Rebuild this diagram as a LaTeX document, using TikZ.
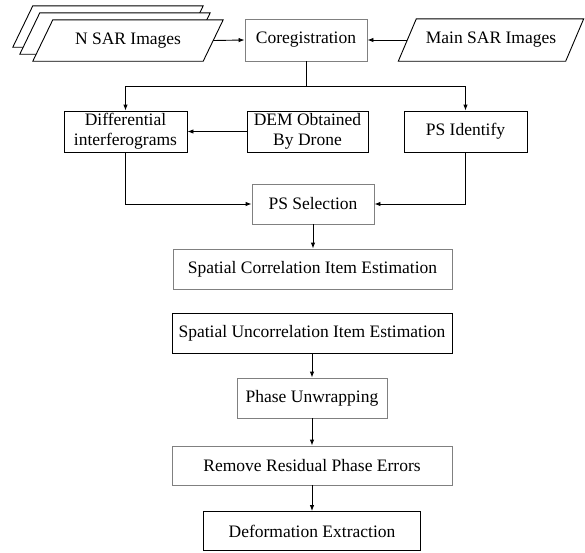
\documentclass[tikz,border=0pt]{standalone}
\usepackage{fontspec}
\setmainfont{Liberation Serif}
\usetikzlibrary{arrows.meta}
\newcommand{\paradraw}[2]{%
  \draw[line width=0.9pt, fill=white] ([xshift=#2]#1.north west) -- ([xshift=#2]#1.north east) -- ([xshift=-#2]#1.south east) -- ([xshift=-#2]#1.south west) -- cycle;}
\begin{document}
\begin{tikzpicture}[x=1pt,y=-1pt,
  every node/.style={font=\fontsize{17.5}{20}\selectfont, inner sep=0pt, align=center},
  blk/.style={draw=black, line width=0.9pt, fill=white},
  gry/.style={draw=black!50, line width=0.9pt, fill=white},
  parabox/.style={minimum width=170pt, minimum height=41pt},
  arr/.style={line width=0.9pt, -{Latex[length=6pt,width=4.5pt]}},
  ln/.style={line width=0.9pt}]
\fill[white] (0,0) rectangle (585,552);
\useasboundingbox (0,0) rectangle (585,552);
% N SAR stack
\node[parabox] (nback) at (108,26.5) {};
\paradraw{nback}{10pt}
\node[parabox] (nmid) at (115,33.5) {};
\paradraw{nmid}{10pt}
\node[parabox] (nsar) at (128,40.5) {};
\paradraw{nsar}{10pt}
\node at (nsar) {N SAR Images};
\node[minimum width=167pt, minimum height=42pt] (msar) at (491,40) {};
\paradraw{msar}{9pt}
\node at (msar) {Main SAR Images};
\node[gry, minimum width=122pt, minimum height=42pt] (coreg) at (306,40) {Coregistration};
\node[blk, minimum width=123pt, minimum height=41pt] (diff) at (125.5,131.5) {Differential\\interferograms};
\node[blk, minimum width=121pt, minimum height=41pt] (dem) at (307.5,131.5) {DEM Obtained\\By Drone};
\node[blk, minimum width=123pt, minimum height=41pt] (psi) at (465.5,131.5) {PS Identify};
\node[gry, minimum width=122pt, minimum height=40pt] (pss) at (313,204) {PS Selection};
\node[gry, minimum width=279pt, minimum height=40pt] (sc) at (312.5,269) {Spatial Correlation Item Estimation};
\node[blk, minimum width=280pt, minimum height=40pt] (su) at (312,333) {Spatial Uncorrelation Item Estimation};
\node[gry, minimum width=150pt, minimum height=40pt] (pu) at (312,398) {Phase Unwrapping};
\node[gry, minimum width=280pt, minimum height=39pt] (rr) at (312,465.5) {Remove Residual Phase Errors};
\node[blk, minimum width=217pt, minimum height=39pt] (de) at (312,531) {Deformation Extraction};
\coordinate (j) at (306,86);
% connectors
\draw[arr] (nsar.east) -- (coreg.west);
\draw[arr] (msar.west) -- (coreg.east);
\draw[ln] (coreg.south) -- (j);
\draw[arr] (j) -| (diff.north);
\draw[arr] (j) -| (psi.north);
\draw[arr] (dem.west) -- (diff.east);
\draw[arr] (diff.south) |- (pss.west);
\draw[arr] (psi.south) |- (pss.east);
\draw[arr] (pss.south) -- (pss.south |- sc.north);
\draw[arr] (su.south) -- (pu.north);
\draw[arr] (pu.south) -- (rr.north);
\draw[arr] (rr.south) -- (de.north);
\end{tikzpicture}
\end{document}
